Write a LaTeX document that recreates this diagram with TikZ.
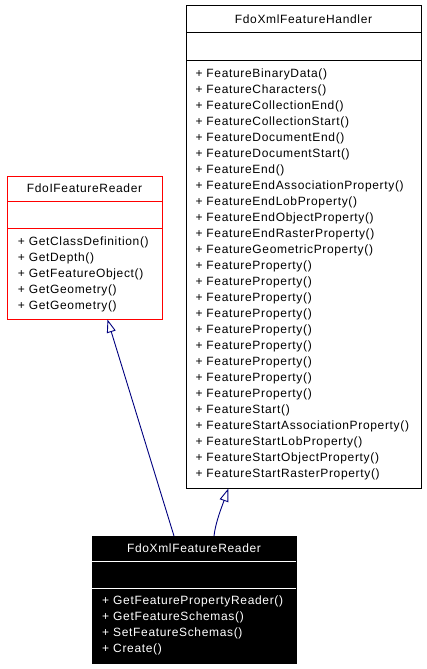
\documentclass[tikz,border=0pt]{standalone}
\usepackage{fontspec}
\setmainfont{Liberation Sans}[LetterSpace=5.5]
\usetikzlibrary{arrows.meta}
\definecolor{navyline}{RGB}{0,0,128}
\definecolor{redline}{RGB}{255,0,0}
\begin{document}
\begin{tikzpicture}[x=1pt,y=-1pt,
  classbox/.style={draw, line width=1pt, inner sep=0pt, outer sep=0pt, anchor=north west},
  divider/.style={line width=1pt},
  mtext/.style={anchor=base west, inner sep=0pt, outer sep=0pt, font=\fontsize{12}{16}\selectfont},
  ttext/.style={anchor=base, inner sep=0pt, outer sep=0pt, font=\fontsize{12}{16}\selectfont},
  inherit/.style={draw=navyline, line width=0.9pt, -{Triangle[open, length=13pt, width=9pt, fill=white]}}
]
\useasboundingbox[fill=white] (0,0) rectangle (427,669);

% FdoXmlFeatureHandler
\node[classbox, minimum width=235pt, minimum height=482pt] (handler) at (186,6) {};
\draw[divider] (186,33) -- (421,33);
\draw[divider] (186,61) -- (421,61);
\node[ttext] (htitle) at (303.5,24) {FdoXmlFeatureHandler};
\foreach \t [count=\i from 0] in {FeatureBinaryData(),FeatureCharacters(),FeatureCollectionEnd(),FeatureCollectionStart(),FeatureDocumentEnd(),FeatureDocumentStart(),FeatureEnd(),FeatureEndAssociationProperty(),FeatureEndLobProperty(),FeatureEndObjectProperty(),FeatureEndRasterProperty(),FeatureGeometricProperty(),FeatureProperty(),FeatureProperty(),FeatureProperty(),FeatureProperty(),FeatureProperty(),FeatureProperty(),FeatureProperty(),FeatureProperty(),FeatureProperty(),FeatureStart(),FeatureStartAssociationProperty(),FeatureStartLobProperty(),FeatureStartObjectProperty(),FeatureStartRasterProperty()}
  {\node[mtext] (h\i) at (195.5,{77.3+16*\i}) {+ \t};}

% FdoIFeatureReader
\node[classbox, draw=redline, minimum width=155pt, minimum height=143pt] (ifr) at (7,176) {};
\draw[divider, redline] (7,201) -- (162,201);
\draw[divider, redline] (7,228) -- (162,228);
\node[ttext] (ititle) at (84.5,192) {FdoIFeatureReader};
\foreach \t [count=\i from 0] in {GetClassDefinition(),GetDepth(),GetFeatureObject(),GetGeometry(),GetGeometry()}
  {\node[mtext] (i\i) at (17.8,{245+16*\i}) {+ \t};}

% FdoXmlFeatureReader
\node[classbox, fill=black, minimum width=204pt, minimum height=127pt] (xfr) at (92,536) {};
\draw[divider, white] (92,561) -- (296,561);
\draw[divider, white] (92,588) -- (296,588);
\node[ttext, text=white] (xtitle) at (194,552.7) {FdoXmlFeatureReader};
\foreach \t [count=\i from 0] in {GetFeaturePropertyReader(),GetFeatureSchemas(),SetFeatureSchemas(),Create()}
  {\node[mtext, text=white] (x\i) at (102.2,{604.3+16.1*\i}) {+ \t};}

% inheritance connectors
\coordinate (a1s) at (174,536);
\coordinate (a1e) at (107.5,319.5);
\coordinate (a2s) at (214,536);
\coordinate (a2e) at (228.3,488.5);
\draw[inherit] (a1s) -- (a1e);
\draw[inherit] (a2s) .. controls (215.5,522) and (222.5,505) .. (a2e);
\end{tikzpicture}
\end{document}
